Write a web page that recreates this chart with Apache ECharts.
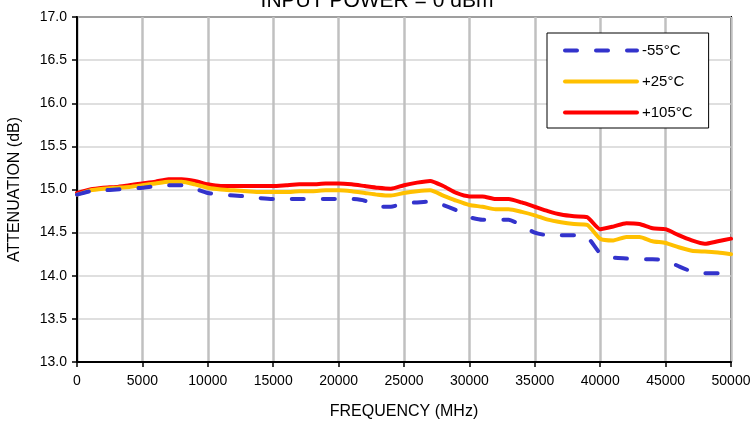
<!DOCTYPE html>
<html>
<head>
<meta charset="utf-8">
<script src="https://cdn.jsdelivr.net/npm/echarts@6/dist/echarts.min.js"></script>
<style>
  html, body { margin: 0; padding: 0; background: #fff; }
  #chart { width: 754px; height: 422px; }
</style>
</head>
<body>
<div id="chart"></div>
<script>
// frequency points, MHz
var freqs = [];
for (var f = 0; f <= 50000; f += 1000) freqs.push(f);

// attenuation (dB), one per 1000 MHz
var minus55 = [14.94, 14.98, 14.99, 15.00, 15.01, 15.02, 15.04, 15.05, 15.05, 15.01,
  14.96, 14.94, 14.93, 14.92, 14.90, 14.89, 14.89, 14.89, 14.89, 14.89,
  14.89, 14.89, 14.87, 14.80, 14.80, 14.84, 14.85, 14.86, 14.82, 14.76,
  14.68, 14.65, 14.65, 14.65, 14.58, 14.50, 14.47, 14.47, 14.47, 14.45,
  14.26, 14.21, 14.20, 14.19, 14.19, 14.18, 14.11, 14.05, 14.03, 14.03, 14.03];
var plus25 = [14.94, 14.99, 15.01, 15.02, 15.03, 15.05, 15.07, 15.09, 15.09, 15.06,
  15.02, 15.00, 14.99, 14.98, 14.97, 14.97, 14.97, 14.98, 14.98, 14.99,
  14.99, 14.98, 14.96, 14.94, 14.93, 14.96, 14.98, 14.99, 14.93, 14.87,
  14.82, 14.80, 14.77, 14.77, 14.74, 14.70, 14.65, 14.62, 14.60, 14.59,
  14.43, 14.41, 14.45, 14.45, 14.40, 14.38, 14.33, 14.29, 14.28, 14.27, 14.25];
var plus105 = [14.96, 15.00, 15.02, 15.03, 15.05, 15.07, 15.09, 15.12, 15.12, 15.10,
  15.06, 15.04, 15.04, 15.04, 15.04, 15.04, 15.05, 15.06, 15.06, 15.07,
  15.07, 15.06, 15.04, 15.02, 15.01, 15.05, 15.08, 15.10, 15.04, 14.96,
  14.92, 14.92, 14.89, 14.89, 14.85, 14.80, 14.75, 14.71, 14.69, 14.68,
  14.54, 14.57, 14.61, 14.60, 14.55, 14.54, 14.47, 14.41, 14.37, 14.40, 14.43];

var seriesNames = ['-55°C', '+25°C', '+105°C'];
var seriesColors = ['#3333cc', '#ffc000', '#ff0000'];
var seriesData = [minus55, plus25, plus105];

function pairs(vals) {
  return freqs.map(function (f, i) { return [f, vals[i]]; });
}

var font = 'Liberation Sans, Arial, sans-serif';
var chart = echarts.init(document.getElementById('chart'));

chart.setOption({
  backgroundColor: '#fff',
  animation: false,
  textStyle: { fontFamily: font },
  title: {
    text: 'INPUT POWER = 0 dBm',
    left: 'center',
    top: -14,
    textStyle: { fontFamily: font, fontSize: 21, fontWeight: 'normal', color: '#000' }
  },
  grid: {
    left: 77, right: 23, top: 17, bottom: 60,
    outerBoundsMode: 'none',
    show: true, borderColor: '#000', borderWidth: 2
  },
  legend: {
    orient: 'vertical',
    left: 547, top: 33,
    padding: [10, 16, 8, 16],
    itemWidth: 72, itemHeight: 16, itemGap: 16,
    backgroundColor: '#fff',
    borderColor: '#000', borderWidth: 1,
    itemStyle: { opacity: 0 },
    lineStyle: { width: 4, cap: 'round' },
    textStyle: { fontFamily: font, fontSize: 15, color: '#000' },
    data: seriesNames
  },
  xAxis: {
    type: 'value',
    min: 0, max: 50000, interval: 5000,
    name: 'FREQUENCY (MHz)',
    nameLocation: 'middle',
    nameGap: 42,
    nameTextStyle: { fontFamily: font, fontSize: 16, color: '#000' },
    axisLine: { lineStyle: { color: '#000', width: 2 } },
    axisTick: { show: true, length: 5, lineStyle: { color: '#000', width: 1.5 } },
    axisLabel: {
      fontFamily: font, fontSize: 14, color: '#000', margin: 12,
      formatter: function (v) { return String(v); }
    },
    splitLine: { show: true, lineStyle: { color: '#c0c0c0', width: 2.5 } }
  },
  yAxis: {
    type: 'value',
    min: 13, max: 17, interval: 0.5,
    name: 'ATTENUATION (dB)',
    nameLocation: 'middle',
    nameGap: 54,
    nameTextStyle: { fontFamily: font, fontSize: 16, color: '#000' },
    axisLine: { lineStyle: { color: '#000', width: 2 } },
    axisTick: { show: true, length: 5, lineStyle: { color: '#000', width: 1.5 } },
    axisLabel: {
      fontFamily: font, fontSize: 14, color: '#000', margin: 10,
      formatter: function (v) { return v.toFixed(1); }
    },
    splitLine: { show: true, lineStyle: { color: '#d4d4d4', width: 1.5 } }
  },
  series: seriesNames.map(function (name, i) {
    return {
      name: name,
      type: 'line',
      data: pairs(seriesData[i]),
      symbol: 'none',
      showSymbol: false,
      smooth: 0.2,
      z: 3 + (2 - i),
      lineStyle: {
        color: seriesColors[i],
        width: 4,
        type: i === 0 ? [12, 19] : 'solid',
        cap: 'round',
        join: 'round'
      },
      itemStyle: { color: seriesColors[i] }
    };
  })
});
</script>
</body>
</html>
